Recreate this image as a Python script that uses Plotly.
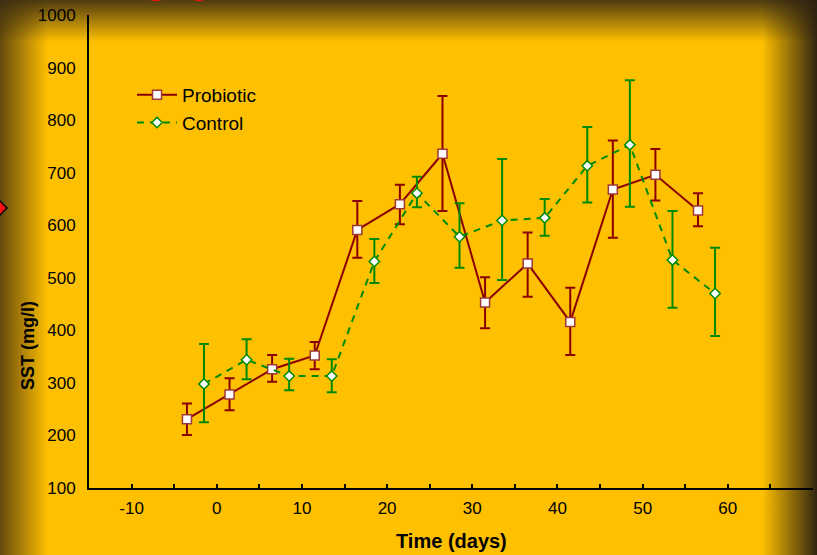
import base64
import plotly.graph_objects as go

# ---- data ----
days_probiotic = [-3.5, 1.5, 6.5, 11.5, 16.5, 21.5, 26.5, 31.5, 36.5, 41.5, 46.5, 51.5, 56.5]
probiotic_mean = [231, 278, 326, 352, 591, 640, 736, 453, 527, 416, 668, 696, 628]
probiotic_upper = [261, 309, 353, 378, 646, 677, 846, 501, 586, 481, 761, 745, 661]
probiotic_lower = [201, 248, 302, 326, 538, 602, 627, 404, 464, 353, 576, 647, 598]

days_control = [-1.5, 3.5, 8.5, 13.5, 18.5, 23.5, 28.5, 33.5, 38.5, 43.5, 48.5, 53.5, 58.5]
control_mean = [298, 344, 313, 313, 531, 661, 578, 609, 614, 713, 753, 534, 470]
control_upper = [374, 383, 346, 345, 574, 692, 642, 726, 650, 787, 876, 627, 557]
control_lower = [225, 307, 286, 282, 490, 634, 519, 496, 580, 643, 635, 443, 389]

x_tickvals = [-10, -5, 0, 5, 10, 15, 20, 25, 30, 35, 40, 45, 50, 55, 60, 65]
x_ticktext = ["-10", "", "0", "", "10", "", "20", "", "30", "", "40", "", "50", "", "60", ""]
y_tickvals = [100, 200, 300, 400, 500, 600, 700, 800, 900, 1000]

RED = "#8B0000"
GREEN = "#008A00"
BG = "#FFC000"
FONT = "Liberation Sans, Arial, sans-serif"

W, H = 817, 555
ML, MR, MT, MB = 89, 4, 15, 67
PW, PH = W - ML - MR, H - MT - MB

# background with vignette as an SVG image
svg = f'''<svg xmlns="http://www.w3.org/2000/svg" width="{W}" height="{H}" viewBox="0 0 {W} {H}">
<defs>
<linearGradient id="gl" x1="0" y1="0" x2="1" y2="0">
<stop offset="0" stop-color="#4a3510" stop-opacity="0.85"/>
<stop offset="1" stop-color="#4a3510" stop-opacity="0"/>
</linearGradient>
<linearGradient id="gt" x1="0" y1="0" x2="0" y2="1">
<stop offset="0" stop-color="#3a2c12" stop-opacity="0.9"/>
<stop offset="1" stop-color="#3a2c12" stop-opacity="0"/>
</linearGradient>
<linearGradient id="gr" x1="0" y1="0" x2="1" y2="0">
<stop offset="0" stop-color="#2a2010" stop-opacity="0"/>
<stop offset="1" stop-color="#2a2010" stop-opacity="0.97"/>
</linearGradient>
</defs>
<rect x="0" y="0" width="{W}" height="{H}" fill="{BG}"/>
<rect x="0" y="0" width="48" height="{H}" fill="url(#gl)"/>
<rect x="0" y="0" width="{W}" height="42" fill="url(#gt)"/>
<rect x="762" y="0" width="55" height="{H}" fill="url(#gr)"/>
<ellipse cx="156" cy="-6" rx="11" ry="7" fill="#ff1010"/>
<ellipse cx="199" cy="-6" rx="11" ry="7" fill="#ff1010"/>
<polygon points="-2,199 7,208 -2,217 -10,208" fill="#ff1010" stroke="#000" stroke-width="1.5"/>
</svg>'''
src = "data:image/svg+xml;base64," + base64.b64encode(svg.encode()).decode()


def err(mean, upper, lower):
    plus = [u - m for u, m in zip(upper, mean)]
    minus = [m - l for m, l in zip(mean, lower)]
    return plus, minus


pp, pm = err(probiotic_mean, probiotic_upper, probiotic_lower)
cp, cm = err(control_mean, control_upper, control_lower)

fig = go.Figure()
fig.add_trace(go.Scatter(
    x=days_probiotic, y=probiotic_mean, name="Probiotic", mode="lines+markers",
    line=dict(color=RED, width=2),
    marker=dict(symbol="square", size=9, color="white", line=dict(color="#A03838", width=1.5)),
    error_y=dict(type="data", symmetric=False, array=pp, arrayminus=pm,
                 color=RED, thickness=2, width=5),
))
fig.add_trace(go.Scatter(
    x=days_control, y=control_mean, name="Control", mode="lines+markers",
    line=dict(color=GREEN, width=2, dash="7px,6px"),
    marker=dict(symbol="diamond", size=8, color="white", line=dict(color=GREEN, width=1.5)),
    error_y=dict(type="data", symmetric=False, array=cp, arrayminus=cm,
                 color=GREEN, thickness=2, width=5),
))

fig.update_layout(
    width=W, height=H,
    margin=dict(l=ML, r=MR, t=MT, b=MB, pad=0),
    paper_bgcolor=BG,
    plot_bgcolor="rgba(0,0,0,0)",
    font=dict(family=FONT, color="black", size=17),
    showlegend=True,
    legend=dict(x=(132 - ML) / PW, y=(H - MB - 76) / PH, xanchor="left", yanchor="top",
                bgcolor="rgba(0,0,0,0)", font=dict(size=19, family=FONT),
                tracegroupgap=0, itemwidth=40),
    images=[dict(source=src, xref="paper", yref="paper",
                 x=-ML / PW, y=1 + MT / PH, sizex=W / PW, sizey=H / PH,
                 xanchor="left", yanchor="top", sizing="stretch", layer="below")],
    xaxis=dict(range=[-15, 70], tickmode="array", tickvals=x_tickvals, ticktext=x_ticktext,
               ticks="inside", ticklen=4, tickwidth=1.5, tickcolor="black",
               showline=True, linecolor="black", linewidth=2, showgrid=False, zeroline=False,
               tickfont=dict(size=17), ticklabelstandoff=4),
    yaxis=dict(range=[100, 1000], tickmode="array", tickvals=y_tickvals,
               ticks="", showline=True, linecolor="black", linewidth=2,
               showgrid=False, zeroline=False, tickfont=dict(size=17), ticklabelstandoff=8),
    annotations=[
        dict(text="<b>Time (days)</b>", xref="paper", yref="paper",
             x=(451 - ML) / PW, y=(H - MB - 541) / PH, xanchor="center", yanchor="middle",
             showarrow=False, font=dict(size=20, family=FONT)),
        dict(text="<b>SST (mg/l)</b>", xref="paper", yref="paper",
             x=(28 - ML) / PW, y=(H - MB - 345) / PH, xanchor="center", yanchor="middle",
             textangle=-90, showarrow=False, font=dict(size=18, family=FONT)),
    ],
)

fig.write_html("out.html")
